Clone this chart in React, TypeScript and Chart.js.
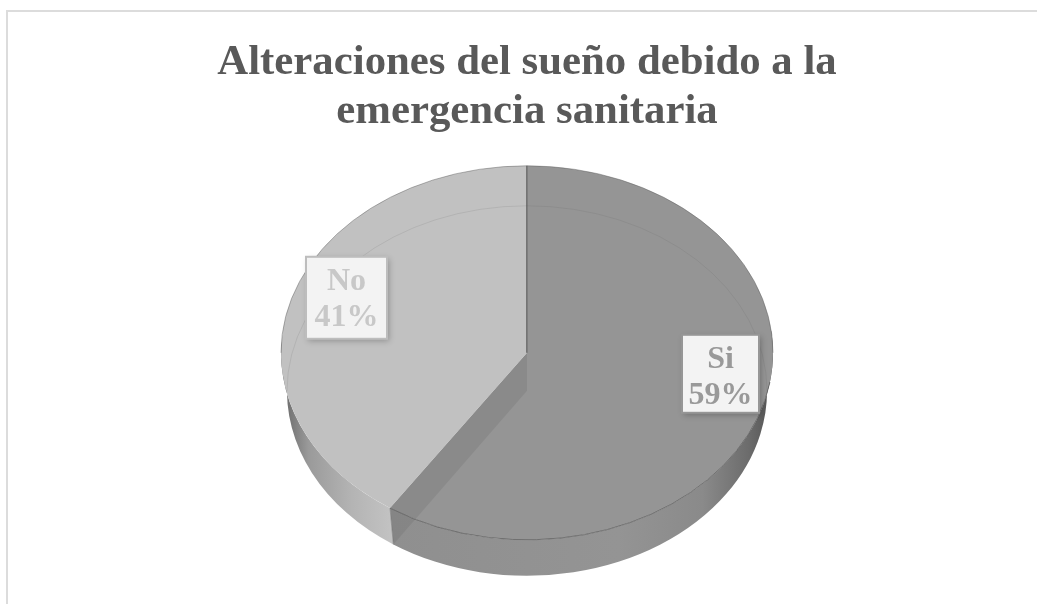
import React, { useEffect, useRef } from "react";
import { Chart, registerables } from "chart.js";

Chart.register(...registerables);

const categories = ["Si", "No"];
const values = [59.4, 40.6];
const titleLines = ["Alteraciones del sueño debido a la", "emergencia sanitaria"];
const sliceColors = ["#959595", "#c1c1c1"];
const labelColors = ["#999999", "#c8c8c8"];
const labelBorders = ["#969696", "#bdbdbd"];

const FACE_RX = 246;
const FACE_RY = 187;
const BASE_RX = 240;
const BASE_RY = 185;
const BASE_DROP = 38;
const SERIF = '"Liberation Serif", "Times New Roman", serif';
// label box centre relative to the pie centre
const labelOffsets = [
  { dx: 193.5, dy: 21, w: 77, h: 78 },
  { dx: -180.5, dy: -55, w: 81, h: 82 },
];

const pie3d = {
  id: "pie3d",
  beforeDraw(chart: any) {
    const { ctx, width, height } = chart;
    ctx.save();
    ctx.fillStyle = "#ffffff";
    ctx.fillRect(0, 0, width, height);
    ctx.strokeStyle = "#dcdcdc";
    ctx.lineWidth = 2;
    ctx.beginPath();
    ctx.moveTo(7, height);
    ctx.lineTo(7, 11);
    ctx.lineTo(width, 11);
    ctx.stroke();
    ctx.restore();
  },
  beforeDatasetsDraw(chart: any) {
    const { ctx } = chart;
    const arcs = chart.getDatasetMeta(0).data;
    const cx = arcs[0].x;
    const cy = arcs[0].y;
    const by = cy + BASE_DROP;
    const stops = [
      [
        [0, "#8f8f8f"],
        [0.6, "#949494"],
        [0.82, "#8a8a8a"],
        [0.94, "#6c6c6c"],
        [1, "#555555"],
      ],
      [
        [0, "#c2c2c2"],
        [0.35, "#b4b4b4"],
        [0.75, "#9a9a9a"],
        [1, "#666666"],
      ],
    ];
    arcs.forEach((arc: any, i: number) => {
      const a0 = Math.max(arc.startAngle, -0.12);
      const a1 = Math.min(arc.endAngle, Math.PI + 0.06);
      const x0 = cx + FACE_RX * Math.cos(a0);
      const x1 = cx + FACE_RX * Math.cos(a1);
      const g = ctx.createLinearGradient(i === 0 ? x1 : x0, 0, i === 0 ? x0 : x1, 0);
      stops[i].forEach(([o, c]: any) => g.addColorStop(o, c));
      ctx.save();
      ctx.fillStyle = g;
      ctx.beginPath();
      ctx.ellipse(cx, cy, FACE_RX, FACE_RY, 0, a0, a1, false);
      ctx.lineTo(cx + BASE_RX * Math.cos(a1), by + BASE_RY * Math.sin(a1));
      ctx.ellipse(cx, by, BASE_RX, BASE_RY, 0, a1, a0, true);
      ctx.closePath();
      ctx.fill();
      ctx.restore();
    });
    ctx.save();
    ctx.translate(cx, cy);
    ctx.scale(1, FACE_RY / FACE_RX);
    ctx.translate(-cx, -cy);
  },
  afterDatasetsDraw(chart: any) {
    const { ctx } = chart;
    ctx.restore();
    const arcs = chart.getDatasetMeta(0).data;
    const cx = arcs[0].x;
    const cy = arcs[0].y;
    const by = cy + BASE_DROP;
    const cut = arcs[0].endAngle;
    const fx = cx + FACE_RX * Math.cos(cut);
    const fy = cy + FACE_RY * Math.sin(cut);
    const bx = cx + BASE_RX * Math.cos(cut);
    const bY = by + BASE_RY * Math.sin(cut);

    ctx.save();
    // wall of the cut, seen through the top face
    ctx.fillStyle = "rgba(100,100,100,0.22)";
    ctx.beginPath();
    ctx.moveTo(cx, cy);
    ctx.lineTo(fx, fy);
    ctx.lineTo(bx, bY);
    ctx.lineTo(cx, by);
    ctx.closePath();
    ctx.fill();
    // vertical wall at twelve o'clock
    ctx.fillStyle = "rgba(90,90,90,0.75)";
    ctx.fillRect(cx - 1, cy - FACE_RY, 1.5, FACE_RY);
    // base outline seen through the face
    ctx.strokeStyle = "rgba(90,90,90,0.14)";
    ctx.lineWidth = 1;
    ctx.beginPath();
    ctx.ellipse(cx, by, BASE_RX, BASE_RY, 0, Math.PI, 2 * Math.PI);
    ctx.stroke();
    // rims
    ctx.strokeStyle = "rgba(70,70,70,0.55)";
    ctx.beginPath();
    ctx.ellipse(cx, cy, FACE_RX, FACE_RY, 0, Math.PI * 0.05, cut);
    ctx.stroke();
    ctx.strokeStyle = "rgba(90,90,90,0.45)";
    ctx.beginPath();
    ctx.ellipse(cx, cy, FACE_RX, FACE_RY, 0, Math.PI, 2 * Math.PI);
    ctx.stroke();
    ctx.strokeStyle = "rgba(110,110,110,0.5)";
    ctx.beginPath();
    ctx.moveTo(fx, fy);
    ctx.lineTo(bx, bY);
    ctx.stroke();

    // value labels
    const total = values.reduce((a, b) => a + b, 0);
    categories.forEach((name, i) => {
      const o = labelOffsets[i];
      const x = cx + o.dx - o.w / 2;
      const y = cy + o.dy - o.h / 2;
      ctx.save();
      ctx.shadowColor = "rgba(0,0,0,0.25)";
      ctx.shadowBlur = 6;
      ctx.shadowOffsetX = 2;
      ctx.shadowOffsetY = 2;
      ctx.fillStyle = "#f3f3f3";
      ctx.fillRect(x, y, o.w, o.h);
      ctx.restore();
      ctx.strokeStyle = labelBorders[i];
      ctx.lineWidth = 2;
      ctx.strokeRect(x, y, o.w, o.h);
      ctx.fillStyle = labelColors[i];
      ctx.font = `bold 32px ${SERIF}`;
      ctx.textAlign = "center";
      ctx.textBaseline = "alphabetic";
      const tx = x + o.w / 2;
      ctx.fillText(name, tx, y + 33);
      ctx.fillText(`${Math.round((values[i] / total) * 100)}%`, tx, y + 69);
    });
    ctx.restore();
  },
};

export default function App() {
  const ref = useRef<HTMLCanvasElement>(null);
  useEffect(() => {
    const chart = new Chart(ref.current as HTMLCanvasElement, {
      type: "pie",
      data: {
        labels: categories,
        datasets: [
          {
            data: values,
            backgroundColor: sliceColors,
            borderWidth: 0,
            radius: FACE_RX,
          },
        ],
      },
      options: {
        animation: false,
        responsive: false,
        devicePixelRatio: 1,
        rotation: 0,
        layout: { padding: { left: 17, right: 0, top: 0, bottom: 35 } },
        plugins: {
          legend: { display: false },
          tooltip: { enabled: false },
          title: {
            display: true,
            text: titleLines,
            color: "#595959",
            font: { family: SERIF, size: 42.8, weight: "bold", lineHeight: 1.14 },
            padding: { top: 39, bottom: 0 },
          },
        },
      },
      plugins: [pie3d],
    } as any);
    return () => chart.destroy();
  }, []);
  return (
    <div style={{ position: "absolute", left: 0, top: 0, width: 1037, height: 604, background: "#fff" }}>
      <canvas ref={ref} width={1037} height={604} style={{ display: "block" }} />
    </div>
  );
}
